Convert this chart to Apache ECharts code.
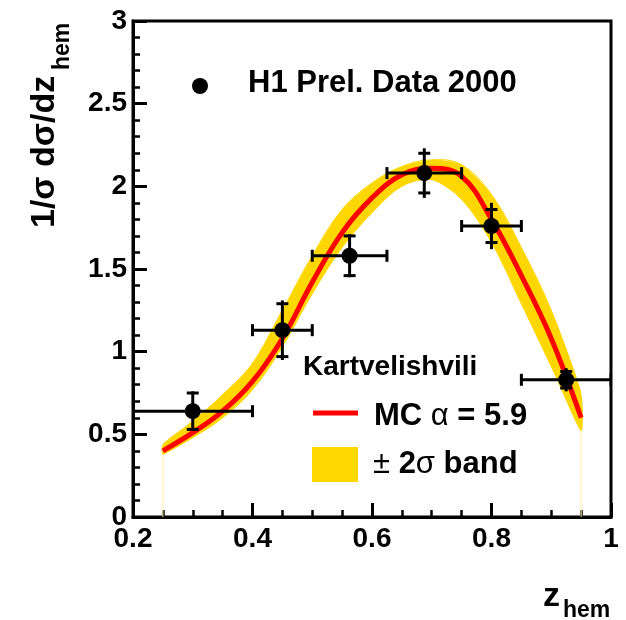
<!DOCTYPE html>
<html>
<head>
<meta charset="utf-8">
<script src="https://cdn.jsdelivr.net/npm/echarts@6/dist/echarts.min.js"></script>
<style>html,body{margin:0;padding:0;background:#fff}#c{width:626px;height:620px}</style>
</head>
<body>
<div id="c"></div>
<script>
// ---- data ----
const zCurve    = [0.25, 0.30, 0.35, 0.40, 0.45, 0.50, 0.55, 0.60, 0.65, 0.70, 0.75, 0.80, 0.85, 0.90, 0.95];
const mcCurve   = [0.40, 0.51, 0.64, 0.82, 1.08, 1.42, 1.72, 1.93, 2.07, 2.11, 2.06, 1.80, 1.46, 1.08, 0.60];
const bandUpper = [0.44, 0.58, 0.74, 0.93, 1.25, 1.58, 1.86, 2.02, 2.12, 2.16, 2.13, 1.95, 1.63, 1.25, 0.75];
const bandLower = [0.38, 0.48, 0.60, 0.77, 1.03, 1.35, 1.63, 1.84, 2.00, 2.04, 1.92, 1.66, 1.29, 0.91, 0.52];

const dataX    = [0.30, 0.45, 0.5625, 0.6875, 0.80, 0.925];
const dataY    = [0.64, 1.13, 1.58, 2.08, 1.76, 0.83];
const dataXLo  = [0.20, 0.40, 0.50, 0.625, 0.75, 0.85];
const dataXHi  = [0.40, 0.50, 0.625, 0.75, 0.85, 1.00];
const statErr  = [0.11, 0.16, 0.12, 0.12, 0.10, 0.05];
const totErr   = [0.12, 0.18, 0.13, 0.15, 0.14, 0.07];

const xTicks = [0.2, 0.4, 0.6, 0.8, 1];
const yTicks = [0, 0.5, 1, 1.5, 2, 2.5, 3];

// ---- build ----
const FONT = '"Liberation Sans", Arial, Helvetica, sans-serif';
const GOLD = '#FFD700';
const bandData = zCurve.map((z, i) => [z, bandLower[i], bandUpper[i]]);
const mcData = zCurve.map((z, i) => [z, mcCurve[i]]);
const ptsData = dataX.map((x, i) => [x, dataY[i], dataXLo[i], dataXHi[i], statErr[i], totErr[i]]);
const edgeL = [[zCurve[0], 0], [zCurve[0], bandLower[0]]];
const edgeR = [[zCurve[zCurve.length - 1], 0], [zCurve[zCurve.length - 1], bandLower[bandLower.length - 1]]];

const chart = echarts.init(document.getElementById('c'), null, {renderer: 'canvas'});
const axisLabelStyle = {color: '#000', fontFamily: FONT, fontWeight: 'bold', fontSize: 28};

chart.setOption({
  animation: false,
  backgroundColor: '#fff',
  grid: {left: 133, top: 21, right: 15, bottom: 103, show: true, borderColor: '#000', borderWidth: 3, backgroundColor: 'transparent'},
  xAxis: {
    type: 'value', min: xTicks[0], max: xTicks[xTicks.length - 1], interval: 0.2,
    axisLine: {show: true, onZero: false, lineStyle: {color: '#000', width: 3}},
    axisTick: {show: true, inside: true, length: 14, lineStyle: {color: '#000', width: 3}},
    minorTick: {show: true, splitNumber: 4, length: 7, lineStyle: {color: '#000', width: 2.5}},
    splitLine: {show: false},
    axisLabel: Object.assign({margin: 8, formatter: v => String(+v.toFixed(1))}, axisLabelStyle)
  },
  yAxis: {
    type: 'value', min: yTicks[0], max: yTicks[yTicks.length - 1], interval: 0.5,
    axisLine: {show: true, onZero: false, lineStyle: {color: '#000', width: 3}},
    axisTick: {show: true, inside: true, length: 14, lineStyle: {color: '#000', width: 3}},
    minorTick: {show: true, splitNumber: 5, length: 7, lineStyle: {color: '#000', width: 2.5}},
    splitLine: {show: false},
    axisLabel: Object.assign({margin: 6, formatter: v => String(+v.toFixed(1))}, axisLabelStyle)
  },
  series: [
    {type: 'line', data: edgeL, symbol: 'none', lineStyle: {color: '#fff2b0', width: 1}, z: 1, silent: true},
    {type: 'line', data: edgeR, symbol: 'none', lineStyle: {color: '#fff2b0', width: 1}, z: 1, silent: true},
    {
      type: 'custom', z: 2, silent: true, data: bandData,
      encode: {x: 0, y: [1, 2]},
      renderItem: function (params, api) {
        if (params.dataIndexInside !== 0) return null;
        const n = params.dataInsideLength;
        const up = [], lo = [];
        for (let i = 0; i < n; i++) {
          up.push(api.coord([api.value(0, i), api.value(2, i)]));
          lo.push(api.coord([api.value(0, i), api.value(1, i)]));
        }
        return {
          type: 'group',
          children: [
            {type: 'polyline', shape: {points: up, smooth: 0.4}, style: {stroke: GOLD, lineWidth: 1, fill: null}},
            {type: 'polyline', shape: {points: lo, smooth: 0.4}, style: {stroke: GOLD, lineWidth: 1, fill: null}},
            {type: 'polygon', shape: {points: up.concat(lo.slice().reverse()), smooth: 0.25}, style: {fill: GOLD}}
          ]
        };
      }
    },
    {type: 'line', data: mcData, symbol: 'none', smooth: 0.4, lineStyle: {color: '#FF0000', width: 5}, z: 3, silent: true},
    {
      type: 'custom', z: 4, clip: true, data: ptsData, silent: true,
      renderItem: function (params, api) {
        const x = api.value(0), y = api.value(1), xl = api.value(2), xh = api.value(3), s = api.value(4), t = api.value(5);
        const l = api.coord([xl, y]);
        const r = api.coord([xh, y]);
        const tt = api.coord([x, y + t]);
        const tb = api.coord([x, y - t]);
        const st = api.coord([x, y + s]);
        const sb = api.coord([x, y - s]);
        const st3 = {stroke: '#000', lineWidth: 3};
        const hc = 6, vc = 6;
        return {
          type: 'group',
          children: [
            {type: 'line', shape: {x1: l[0], y1: l[1], x2: r[0], y2: r[1]}, style: st3},
            {type: 'line', shape: {x1: l[0], y1: l[1] - hc, x2: l[0], y2: l[1] + hc}, style: st3},
            {type: 'line', shape: {x1: r[0], y1: r[1] - hc, x2: r[0], y2: r[1] + hc}, style: st3},
            {type: 'line', shape: {x1: tt[0], y1: tt[1], x2: tb[0], y2: tb[1]}, style: st3},
            {type: 'line', shape: {x1: st[0] - vc, y1: st[1], x2: st[0] + vc, y2: st[1]}, style: st3},
            {type: 'line', shape: {x1: sb[0] - vc, y1: sb[1], x2: sb[0] + vc, y2: sb[1]}, style: st3}
          ]
        };
      }
    },
    {type: 'scatter', data: ptsData.map(p => [p[0], p[1]]), symbol: 'circle', symbolSize: 16, itemStyle: {color: '#000', opacity: 1}, z: 5, silent: true}
  ],
  graphic: [
    // y axis title
    {type: 'text', x: 62, y: 228, rotation: Math.PI / 2, z: 10,
      style: {text: '1/σ dσ/dz', font: 'bold 34px ' + FONT, fill: '#000', align: 'left', verticalAlign: 'bottom'}},
    {type: 'text', x: 74, y: 70, rotation: Math.PI / 2, z: 10,
      style: {text: 'hem', font: 'bold 23px ' + FONT, fill: '#000', align: 'left', verticalAlign: 'bottom'}},
    // x axis title
    {type: 'text', x: 543, y: 614, z: 10,
      style: {text: 'z', font: 'bold 34px ' + FONT, fill: '#000', align: 'left', verticalAlign: 'bottom'}},
    {type: 'text', x: 563, y: 622, z: 10,
      style: {text: 'hem', font: 'bold 23px ' + FONT, fill: '#000', align: 'left', verticalAlign: 'bottom'}},
    // legend: data
    {type: 'circle', shape: {cx: 200, cy: 86, r: 8}, style: {fill: '#000'}, z: 10},
    {type: 'text', x: 248, y: 99, z: 10,
      style: {text: 'H1 Prel. Data 2000', font: 'bold 31px ' + FONT, fill: '#000', align: 'left', verticalAlign: 'bottom'}},
    // legend: model
    {type: 'text', x: 303, y: 381, z: 10,
      style: {text: 'Kartvelishvili', font: 'bold 28px ' + FONT, fill: '#000', align: 'left', verticalAlign: 'bottom'}},
    {type: 'line', shape: {x1: 313, y1: 413, x2: 358, y2: 413}, style: {stroke: '#FF0000', lineWidth: 5}, z: 10},
    {type: 'text', x: 374, y: 432, z: 10,
      style: {text: '{b|MC }{n|α}{b| = 5.9}', fill: '#000', align: 'left', verticalAlign: 'bottom',
        rich: {b: {font: 'bold 31px ' + FONT, fill: '#000'}, n: {font: '31px ' + FONT, fill: '#000'}}}},
    {type: 'rect', shape: {x: 312, y: 447, width: 46, height: 35}, style: {fill: GOLD}, z: 10},
    {type: 'text', x: 373, y: 480, z: 10,
      style: {text: '{n|± }{b|2}{n|σ}{b| band}', fill: '#000', align: 'left', verticalAlign: 'bottom',
        rich: {b: {font: 'bold 31px ' + FONT, fill: '#000'}, n: {font: '31px ' + FONT, fill: '#000'}}}}
  ]
});
</script>
</body>
</html>
